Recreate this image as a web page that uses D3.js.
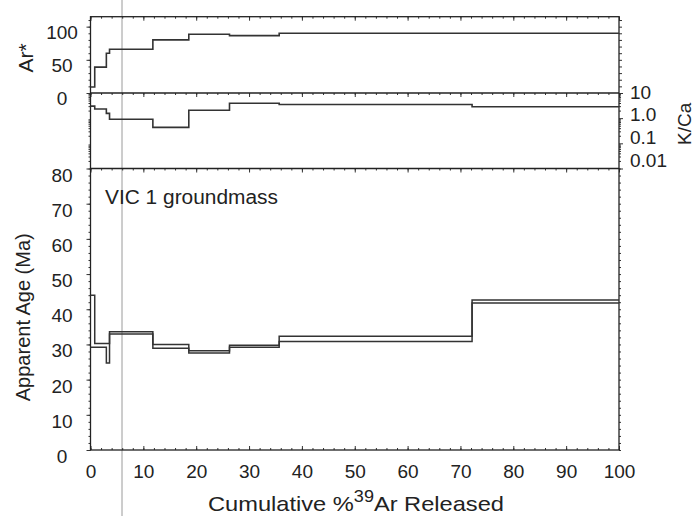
<!DOCTYPE html>
<html>
<head>
<meta charset="utf-8">
<script src="https://cdn.jsdelivr.net/npm/d3@7"></script>
<style>
  body { margin: 0; background: #fff; }
  svg { display: block; }
  text { font-family: "Liberation Sans", Arial, Helvetica, sans-serif; fill: #222; }
</style>
</head>
<body>
<svg id="chart"></svg>
<script>
// Données du spectre
const cumPct = [0, 0.8, 3.0, 3.6, 11.8, 18.6, 26.3, 35.7, 72.2, 100];
const arStar = [9, 39, 60, 66, 80, 88.5, 86.5, 90, 90];
const kCa = [3.0, 2.3, 1.55, 0.9, 0.43, 2.05, 3.9, 3.5, 2.85];
const ageHigh = [44.0, 30.3, 30.3, 33.6, 30.0, 28.2, 29.8, 32.3, 42.6];
const ageLow = [29.2, 29.2, 24.7, 33.0, 28.9, 27.6, 29.2, 30.8, 41.8];

const xTicks = [0, 10, 20, 30, 40, 50, 60, 70, 80, 90, 100];
const ageTicks = [0, 10, 20, 30, 40, 50, 60, 70, 80];
const arTicks = [0, 50, 100];
const kCaTicks = [10, 1, 0.1, 0.01];
const kCaLabels = ["10", "1.0", "0.1", "0.01"];

const width = 695, height = 516;
const left = 90.5, right = 619;
const arTop = 16.7, kTop = 93, ageTop = 168.5, bottom = 450;

const svg = d3.select("#chart").attr("width", width).attr("height", height);

const x = d3.scaleLinear().domain([0, 100]).range([left, right]);
const yAr = d3.scaleLinear().domain([0, 115]).range([kTop, arTop]);
const yK = d3.scaleLog().domain([0.01, 10]).range([ageTop, kTop]);
const yAge = d3.scaleLinear().domain([0, 80]).range([bottom, ageTop]);

// ligne verticale grise (trait de règle sur l'original)
svg.append("line")
    .attr("x1", 122).attr("x2", 122).attr("y1", 0).attr("y2", height)
    .attr("stroke", "#9a9a9a").attr("stroke-width", 1);

// fonction pour les axes sans domaine
function axis(g, ax) {
    g.call(ax).call(s => s.select(".domain").remove());
    g.selectAll("line").attr("stroke", "#333");
    return g;
}

const minorX = d3.range(0, 101, 2);
// ticks en haut de chaque panneau (vers l'intérieur)
[arTop, kTop, ageTop].forEach(yy => {
    axis(svg.append("g").attr("transform", `translate(0,${yy})`),
        d3.axisBottom(x).tickValues(minorX).tickSize(2).tickFormat(""));
    axis(svg.append("g").attr("transform", `translate(0,${yy})`),
        d3.axisBottom(x).tickValues(xTicks).tickSize(4).tickFormat(""));
});

// axe du bas
axis(svg.append("g").attr("transform", `translate(0,${bottom})`),
    d3.axisTop(x).tickValues(minorX).tickSize(2).tickFormat(""));
const xAxis = axis(svg.append("g").attr("transform", `translate(0,${bottom})`),
    d3.axisTop(x).tickValues(xTicks).tickSize(4).tickFormat(d3.format("d")));
xAxis.selectAll("text")
    .attr("y", 21).attr("dy", 0)
    .attr("dominant-baseline", "central")
    .style("font-size", "19px");

// axe des âges
axis(svg.append("g").attr("transform", `translate(${left},0)`),
    d3.axisLeft(yAge).tickValues(d3.range(0, 81, 2)).tickSize(2).tickFormat(""));
axis(svg.append("g").attr("transform", `translate(${right},0)`),
    d3.axisRight(yAge).tickValues(d3.range(0, 81, 2)).tickSize(2).tickFormat(""));
const ageAxis = axis(svg.append("g").attr("transform", `translate(${left},0)`),
    d3.axisLeft(yAge).tickValues(ageTicks).tickSize(4));
ageAxis.selectAll("text")
    .attr("x", -28.5).attr("dy", "6px")
    .attr("text-anchor", "middle").attr("dominant-baseline", "central")
    .style("font-size", "19px");

// axe Ar*
axis(svg.append("g").attr("transform", `translate(${left},0)`),
    d3.axisLeft(yAr).tickValues(d3.range(0, 111, 10)).tickSize(2).tickFormat(""));
axis(svg.append("g").attr("transform", `translate(${right},0)`),
    d3.axisRight(yAr).tickValues(d3.range(0, 111, 10)).tickSize(3).tickFormat(""));
const arAxis = axis(svg.append("g").attr("transform", `translate(${left},0)`),
    d3.axisLeft(yAr).tickValues(arTicks).tickSize(4));
arAxis.selectAll("text")
    .attr("x", -28.5).attr("dy", "5px")
    .attr("text-anchor", "middle").attr("dominant-baseline", "central")
    .style("font-size", "19px");

// axe K/Ca (log)
const kMinor = [];
[0.01, 0.1, 1].forEach(b => [2, 3, 4, 5, 6, 7, 8, 9].forEach(m => kMinor.push(b * m)));
axis(svg.append("g").attr("transform", `translate(${left},0)`),
    d3.axisLeft(yK).tickValues(kMinor).tickSize(2).tickFormat(""));
axis(svg.append("g").attr("transform", `translate(${right},0)`),
    d3.axisRight(yK).tickValues(kMinor).tickSize(2).tickFormat(""));
axis(svg.append("g").attr("transform", `translate(${right},0)`),
    d3.axisRight(yK).tickValues(kCaTicks).tickSize(4).tickFormat(""));
const kLabelY = d3.scalePoint().domain(kCaLabels).range([92, 160]);
svg.append("g").selectAll("text")
    .data(kCaLabels)
    .join("text")
    .attr("x", right + 11)
    .attr("y", d => kLabelY(d))
    .attr("dominant-baseline", "central")
    .style("font-size", "19px")
    .text(d => d);

// cadre
const frame = svg.append("g").attr("stroke", "#222").attr("stroke-width", 1.3).attr("fill", "none");
frame.append("rect").attr("x", left).attr("y", arTop).attr("width", right - left).attr("height", bottom - arTop);
[kTop, ageTop].forEach(yy => frame.append("line")
    .attr("x1", left).attr("x2", right).attr("y1", yy).attr("y2", yy));

// courbes en escalier
function stepData(vals) {
    const pts = vals.map((v, i) => [cumPct[i], v]);
    pts.push([cumPct[cumPct.length - 1], vals[vals.length - 1]]);
    return pts;
}
function drawStep(vals, yScale, w) {
    svg.append("path")
        .datum(stepData(vals))
        .attr("fill", "none")
        .attr("stroke", "#333")
        .attr("stroke-width", w)
        .attr("d", d3.line()
            .x(d => x(d[0]))
            .y(d => yScale(d[1]))
            .curve(d3.curveStepAfter));
}
drawStep(arStar, yAr, 1.6);
drawStep(kCa, yK, 1.6);
drawStep(ageHigh, yAge, 1.5);
drawStep(ageLow, yAge, 1.5);

// titres
svg.append("text")
    .attr("transform", `translate(25,${(arTop + kTop) / 2 + 3}) rotate(-90)`)
    .attr("text-anchor", "middle").attr("dominant-baseline", "central")
    .style("font-size", "21px").text("Ar*");

svg.append("text")
    .attr("transform", `translate(684,${(kTop + ageTop) / 2 - 7}) rotate(-90)`)
    .attr("text-anchor", "middle").attr("dominant-baseline", "central")
    .style("font-size", "19px").text("K/Ca");

svg.append("text")
    .attr("transform", `translate(23,${(ageTop + bottom) / 2 + 8}) rotate(-90)`)
    .attr("text-anchor", "middle").attr("dominant-baseline", "central")
    .attr("textLength", 168).attr("lengthAdjust", "spacingAndGlyphs")
    .style("font-size", "20px").text("Apparent Age (Ma)");

svg.append("text")
    .attr("x", 105).attr("y", 197)
    .attr("dominant-baseline", "central")
    .attr("textLength", 173).attr("lengthAdjust", "spacingAndGlyphs")
    .style("font-size", "20px").text("VIC 1 groundmass");

const xt = svg.append("text")
    .attr("x", 208).attr("y", 503)
    .attr("dominant-baseline", "central")
    .attr("textLength", 296).attr("lengthAdjust", "spacingAndGlyphs")
    .style("font-size", "21px");
xt.append("tspan").text("Cumulative %");
xt.append("tspan").attr("dy", -7).style("font-size", "16px").text("39");
xt.append("tspan").attr("dy", 7).text("Ar Released");
</script>
</body>
</html>
